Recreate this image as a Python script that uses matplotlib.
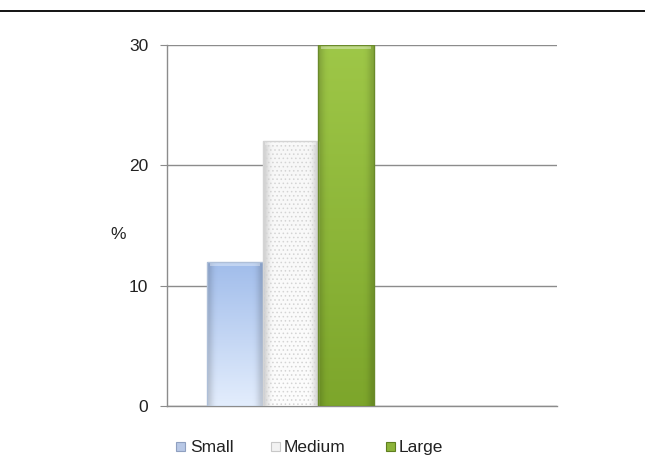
import numpy as np
import matplotlib
matplotlib.use("Agg")
import matplotlib.pyplot as plt
from matplotlib.lines import Line2D
from matplotlib.patches import Rectangle

categories = ["Small", "Medium", "Large"]
values = [12, 22, 30]
yticks = [0, 10, 20, 30]
ylabel = "%"

plt.rcParams['font.family'] = ['Liberation Sans', 'DejaVu Sans']
plt.rcParams['hatch.linewidth'] = 0.6

W, H = 645, 467
fig = plt.figure(figsize=(W / 100, H / 100), dpi=100)
ax = fig.add_axes([0.2589, 0.1306, 0.6047, 0.773])

x = np.arange(len(categories))
width = 1.0
bars = ax.bar(x, values, width=width, color="none", edgecolor="none", zorder=3)

# (top colour, bottom colour)
grad_cols = {
    "Small": [(0.63, 0.74, 0.92), (0.89, 0.93, 0.99)],
    "Medium": [(0.97, 0.97, 0.97), (0.99, 0.99, 0.99)],
    "Large": [(0.62, 0.78, 0.28), (0.49, 0.65, 0.17)],
}
edge_cols = {"Small": "#aebfd8", "Medium": "#d4d4d4", "Large": "#6a8a2a"}
legend_cols = {"Small": ("#b8c8e6", "#8fa0c0"), "Medium": ("#f2f2f2", "#c8c8c8"),
               "Large": ("#8db43a", "#5f7f20")}
for name, b in zip(categories, bars):
    ctop, cbot = grad_cols[name]
    n = 64
    t = np.linspace(0, 1, n)[:, None]
    img = np.zeros((n, 2, 3))
    for k in range(3):
        img[:, :, k] = cbot[k] + (ctop[k] - cbot[k]) * t
    x0, w = b.get_x(), b.get_width()
    h = b.get_height()
    im = ax.imshow(img, extent=[x0, x0 + w, 0, h], origin="lower", aspect="auto",
                   zorder=3, interpolation="bilinear")
    im.set_clip_path(b)
    sh = np.zeros((2, n, 4))
    xs = np.linspace(0, 1, n)
    sh[:, :, 3] = 0.16 * (np.exp(-(xs / 0.1) ** 2) + np.exp(-((xs - 1.0) / 0.1) ** 2))
    im2 = ax.imshow(sh, extent=[x0, x0 + w, 0, h], origin="lower", aspect="auto",
                    zorder=3.5, interpolation="bilinear")
    im2.set_clip_path(b)
    ax.bar(b.get_x() + w / 2, 0.35, bottom=h - 0.35, width=w * 0.9,
           color="white", alpha=0.35, edgecolor="none", zorder=3.6)
    ax.bar(b.get_x() + w / 2, h, width=w, color="none", edgecolor=edge_cols[name],
           linewidth=1.0, zorder=4,
           hatch="...." if name == "Medium" else None)

ax.set_xlim(-1.218, 5.784)
ax.set_ylim(0, 30)
ax.set_yticks(yticks)
ax.set_yticklabels([str(v) for v in yticks], fontsize=12.5, color="#222222")
ax.set_xticks([])
ax.yaxis.grid(True, color="#8c8c8c", linewidth=1.0, zorder=0)
ax.set_axisbelow(True)
for s in ["top", "right"]:
    ax.spines[s].set_visible(False)
for s in ["left", "bottom"]:
    ax.spines[s].set_color("#8c8c8c")
    ax.spines[s].set_linewidth(1.0)
ax.tick_params(axis="y", length=5, color="#8c8c8c", pad=8.5)
ax.set_ylabel(ylabel, rotation=0, fontsize=12.5, color="#222222", va="center", ha="center")
ax.yaxis.set_label_coords(-0.126, 0.474)

# manual legend (marker centre x in px)
leg_x = [181, 275, 390]
leg_y = 446
for name, lx in zip(categories, leg_x):
    fc, ec = legend_cols[name]
    fig.add_artist(Rectangle(((lx - 4.5) / W, 1 - (leg_y + 4.5) / H), 9 / W, 9 / H,
                             transform=fig.transFigure, facecolor=fc, edgecolor=ec,
                             linewidth=0.8))
    fig.text((lx + 9) / W, 1 - (leg_y + 6) / H, name, fontsize=12.5, color="#222222",
             ha="left", va="baseline")

fig.add_artist(Line2D([0, 1], [0.9754, 0.9754], transform=fig.transFigure,
                      color="black", linewidth=1.3))

fig.savefig("out.png", dpi=100)
